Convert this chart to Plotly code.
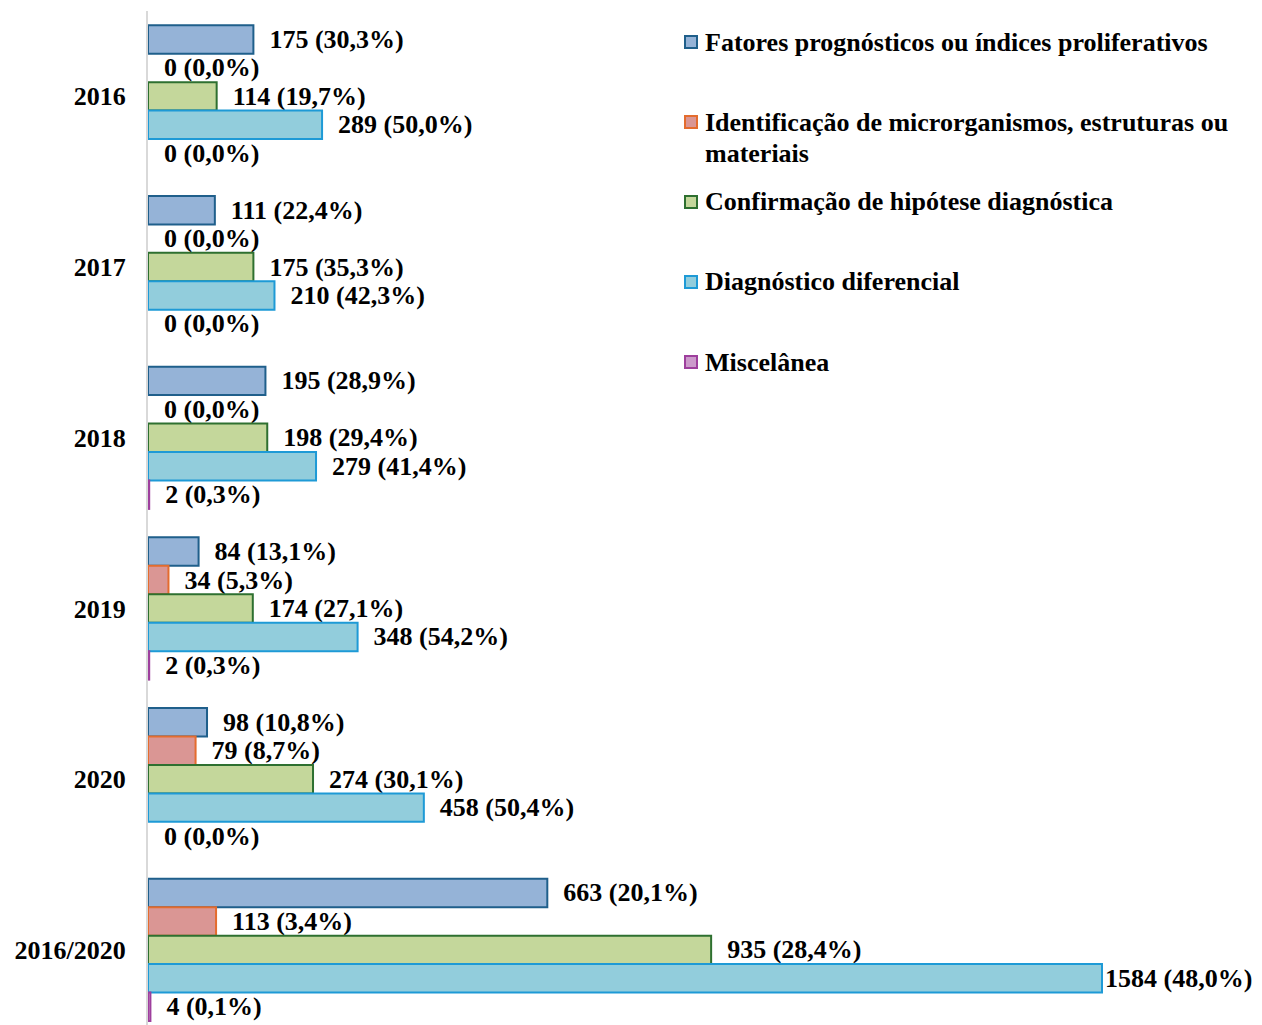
import plotly.graph_objects as go

categories = ["2016", "2017", "2018", "2019", "2020", "2016/2020"]
series_names = [
    "Fatores prognósticos ou índices proliferativos",
    "Identificação de microrganismos, estruturas ou<br>materiais",
    "Confirmação de hipótese diagnóstica",
    "Diagnóstico diferencial",
    "Miscelânea",
]
fatores = [175, 111, 195, 84, 98, 663]
fatores_pct = [30.3, 22.4, 28.9, 13.1, 10.8, 20.1]
identificacao = [0, 0, 0, 34, 79, 113]
identificacao_pct = [0.0, 0.0, 0.0, 5.3, 8.7, 3.4]
confirmacao = [114, 175, 198, 174, 274, 935]
confirmacao_pct = [19.7, 35.3, 29.4, 27.1, 30.1, 28.4]
diferencial = [289, 210, 279, 348, 458, 1584]
diferencial_pct = [50.0, 42.3, 41.4, 54.2, 50.4, 48.0]
miscelanea = [0, 0, 2, 2, 0, 4]
miscelanea_pct = [0.0, 0.0, 0.3, 0.3, 0.0, 0.1]

values = [fatores, identificacao, confirmacao, diferencial, miscelanea]
pcts = [fatores_pct, identificacao_pct, confirmacao_pct, diferencial_pct, miscelanea_pct]
fills = ["#95B3D7", "#DA9694", "#C4D79B", "#92CDDC", "#CC9ACB"]
borders = ["#1F5F8B", "#E46C2E", "#2E7030", "#1E9AD6", "#9E3F9D"]

FONT = "Liberation Serif"
NB = "\u00a0\u00a0"

W, H = 1262, 1025
ML, MR, MT, MB = 148, 0, 11, 0
PW, PH = W - ML - MR, H - MT - MB


def fmt(v, p, pad=True):
    s = f"{v} ({p:.1f}%)".replace(".", ",")
    return (NB + s) if pad else s


fig = go.Figure()
for i, (name, vals, pc) in enumerate(zip(series_names, values, pcts)):
    texts = [fmt(v, p, pad=(v != max(diferencial))) for v, p in zip(vals, pc)]
    lw = [2 if v > 0 else 0 for v in vals]
    fig.add_trace(go.Bar(
        y=categories, x=vals, orientation="h", name=name,
        marker=dict(color=fills[i], line=dict(color=borders[i], width=lw)),
        text=texts, textposition="outside", constraintext="none",
        textfont=dict(family=FONT, size=26, color="black", weight="bold"),
        cliponaxis=False, showlegend=False,
    ))

# Manual legend (paper coordinates derived from pixel positions)
def px(x):
    return (x - ML) / PW

def py(y):
    return 1 - (y - MT) / PH

legend_rows = [42, 122, 202, 282, 362]
annotations = []
shapes = []
for i, (name, yc) in enumerate(zip(series_names, legend_rows)):
    shapes.append(dict(type="rect", xref="paper", yref="paper",
                       x0=px(685), x1=px(697), y0=py(yc + 6), y1=py(yc - 6),
                       fillcolor=fills[i], line=dict(color=borders[i], width=2)))
    for k, line in enumerate(name.split("<br>")):
        annotations.append(dict(xref="paper", yref="paper", x=px(703), y=py(yc + 31 * k),
                                xanchor="left", yanchor="middle", align="left",
                                text=line, showarrow=False,
                                font=dict(family=FONT, size=26, color="black", weight="bold")))

fig.update_layout(
    width=W, height=H,
    margin=dict(l=ML, r=MR, t=MT, b=MB, pad=0),
    paper_bgcolor="white", plot_bgcolor="white",
    barmode="group", bargap=1/6, bargroupgap=0,
    shapes=shapes, annotations=annotations,
    xaxis=dict(range=[0, PW / (954 / 1584)], showgrid=False, zeroline=False,
               showticklabels=False, showline=False),
    yaxis=dict(type="category", range=[5.44, -0.5], showgrid=False, zeroline=False,
               showline=True, linecolor="#D9D9D9", linewidth=2,
               ticks="", ticklabelstandoff=15,
               tickfont=dict(family=FONT, size=26, color="black", weight="bold")),
)

fig.write_html("out.html")
